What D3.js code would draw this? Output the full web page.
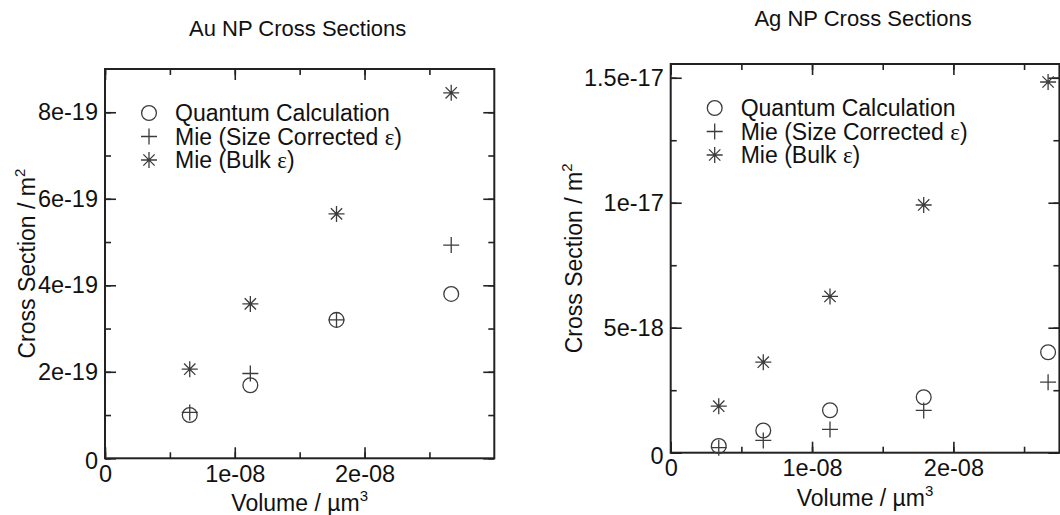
<!DOCTYPE html>
<html>
<head>
<meta charset="utf-8">
<script src="https://cdn.jsdelivr.net/npm/d3@7"></script>
<style>
  body { margin: 0; background: #fff; }
  text { font-family: "Liberation Sans", Arial, sans-serif; fill: #111; }
  .eps { font-family: "Liberation Serif", "DejaVu Serif", serif; }
</style>
</head>
<body>
<div id="chart"></div>
<script>
// Au panel data
var auVolume  = [0.653e-8, 1.12e-8, 1.784e-8, 2.668e-8];
var auQuantum = [1.00e-19, 1.69e-19, 3.20e-19, 3.80e-19];
var auMieSize = [1.06e-19, 1.96e-19, 3.20e-19, 4.93e-19];
var auMieBulk = [2.06e-19, 3.57e-19, 5.65e-19, 8.45e-19];

// Ag panel data
var agVolume  = [0.34e-8, 0.655e-8, 1.127e-8, 1.79e-8, 2.67e-8];
var agQuantum = [0.27e-18, 0.89e-18, 1.70e-18, 2.22e-18, 4.02e-18];
var agMieSize = [0.20e-18, 0.49e-18, 0.93e-18, 1.69e-18, 2.82e-18];
var agMieBulk = [1.86e-18, 3.62e-18, 6.25e-18, 9.91e-18, 14.83e-18];

var legendLabels = ["Quantum Calculation", "Mie (Size Corrected ", "Mie (Bulk "];
var auXTicks = [0, 1e-8, 2e-8],  auXTickLabels = ["0", "1e-08", "2e-08"];
var auYTicks = [0, 2e-19, 4e-19, 6e-19, 8e-19], auYTickLabels = ["0", "2e-19", "4e-19", "6e-19", "8e-19"];
var agXTicks = [0, 1e-8, 2e-8],  agXTickLabels = ["0", "1e-08", "2e-08"];
var agYTicks = [0, 5e-18, 1e-17, 1.5e-17], agYTickLabels = ["0", "5e-18", "1e-17", "1.5e-17"];

var svg = d3.select('#chart').append('svg')
    .attr('width', 1060)
    .attr('height', 515);

var stroke = '#222';
var markStroke = '#3c3c3c';

function marker(g, type, cx, cy) {
    if (type == 'circle') {
        g.append('circle').attr('cx', cx).attr('cy', cy).attr('r', 7.4)
            .attr('fill', 'none').attr('stroke', markStroke).attr('stroke-width', 1.3);
    } else if (type == 'plus') {
        g.append('path').attr('d', 'M' + (cx - 8) + ',' + cy + 'h16M' + cx + ',' + (cy - 8) + 'v16')
            .attr('stroke', markStroke).attr('stroke-width', 1.3);
    } else {
        var r = 8, d = r * 0.7071;
        g.append('path')
            .attr('d', 'M' + (cx - r) + ',' + cy + 'h' + (2 * r) + 'M' + cx + ',' + (cy - r) + 'v' + (2 * r) +
                'M' + (cx - d) + ',' + (cy - d) + 'l' + (2 * d) + ',' + (2 * d) +
                'M' + (cx - d) + ',' + (cy + d) + 'l' + (2 * d) + ',' + (-2 * d))
            .attr('stroke', markStroke).attr('stroke-width', 1.3);
    }
}

function drawPanel(p) {
    var x = d3.scaleLinear().domain(p.xDomain).range([p.left, p.left + p.size]);
    var y = d3.scaleLinear().domain(p.yDomain).range([p.top + p.size, p.top]);
    var g = svg.append('g');

    // minor ticks on all four sides
    var minorX = d3.range(0, p.xDomain[1], p.xMinor);
    var minorY = d3.range(0, p.yDomain[1], p.yMinor);
    [[d3.axisBottom(x), p.top + p.size, minorX, 'h'], [d3.axisTop(x), p.top, minorX, 'h'],
     [d3.axisLeft(y), p.left, minorY, 'v'], [d3.axisRight(y), p.left + p.size, minorY, 'v']]
        .forEach(function (a) {
            var ax = a[0].tickValues(a[2]).tickSize(-6).tickSizeOuter(0).tickFormat('');
            var t = g.append('g')
                .attr('transform', a[3] == 'h' ? 'translate(0,' + a[1] + ')' : 'translate(' + a[1] + ',0)')
                .call(ax);
            t.select('.domain').remove();
            t.selectAll('line').attr('stroke', stroke).attr('stroke-width', 1.6);
        });

    // major ticks with labels
    var bx = g.append('g').attr('transform', 'translate(0,' + (p.top + p.size) + ')')
        .call(d3.axisBottom(x).tickValues(p.xTicks).tickSize(-11).tickSizeOuter(0).tickPadding(7)
            .tickFormat(function (d, i) { return p.xTickLabels[i]; }));
    var tx = g.append('g').attr('transform', 'translate(0,' + p.top + ')')
        .call(d3.axisTop(x).tickValues(p.xTicks).tickSize(-11).tickSizeOuter(0).tickFormat(''));
    var ly = g.append('g').attr('transform', 'translate(' + p.left + ',0)')
        .call(d3.axisLeft(y).tickValues(p.yTicks).tickSize(-11).tickSizeOuter(0).tickPadding(7)
            .tickFormat(function (d, i) { return p.yTickLabels[i]; }));
    var ry = g.append('g').attr('transform', 'translate(' + (p.left + p.size) + ',0)')
        .call(d3.axisRight(y).tickValues(p.yTicks).tickSize(-11).tickSizeOuter(0).tickFormat(''));
    [bx, tx, ly, ry].forEach(function (a) {
        a.select('.domain').remove();
        a.selectAll('line').attr('stroke', stroke).attr('stroke-width', 1.6);
        a.selectAll('text').attr('font-size', 23.5).attr('fill', '#111')
            .attr('font-family', '"Liberation Sans", Arial, sans-serif');
    });
    // the zero labels sit slightly off the corner as in the original
    ly.selectAll('.tick').filter(function (d) { return d == 0; }).select('text').attr('dy', '0.45em');

    // frame
    g.append('rect').attr('x', p.left).attr('y', p.top).attr('width', p.size).attr('height', p.size)
        .attr('fill', 'none').attr('stroke', stroke).attr('stroke-width', 2);

    // data
    var series = [[p.quantum, 'circle'], [p.mieSize, 'plus'], [p.mieBulk, 'star']];
    series.forEach(function (s) {
        s[0].forEach(function (v, i) {
            marker(g, s[1], x(p.volume[i]), y(v));
        });
    });

    // legend
    series.forEach(function (s, i) {
        var ly0 = p.top + 44 + i * 23.5;
        marker(g, s[1], p.left + 44, ly0);
        var t = g.append('text').attr('x', p.left + 70).attr('y', ly0 + 8).attr('font-size', 23)
            .text(legendLabels[i]);
        if (i > 0) {
            t.append('tspan').attr('class', 'eps').text('\u03b5');
            t.append('tspan').text(')');
        }
    });

    // title
    g.append('text').attr('x', p.left + p.size / 2 - 2).attr('y', p.titleY)
        .attr('text-anchor', 'middle').attr('font-size', 22).text(p.title);

    // axis labels
    var xl = g.append('text').attr('x', p.left + p.size / 2).attr('y', p.top + p.size + 53)
        .attr('text-anchor', 'middle').attr('font-size', 23).text('Volume / \u00b5m');
    xl.append('tspan').attr('font-size', 15).attr('dy', -10).text('3');

    var yl = g.append('text')
        .attr('transform', 'translate(' + p.yLabelX + ',' + (p.top + p.size / 2) + ') rotate(-90)')
        .attr('text-anchor', 'middle').attr('font-size', 23).text('Cross Section / m');
    yl.append('tspan').attr('font-size', 15).attr('dy', -10).text('2');
}

drawPanel({
    left: 105, top: 69, size: 389.3,
    xDomain: [0, 3e-8], yDomain: [0, 9e-19], xMinor: 0.5e-8, yMinor: 1e-19,
    xTicks: auXTicks, xTickLabels: auXTickLabels, yTicks: auYTicks, yTickLabels: auYTickLabels,
    volume: auVolume, quantum: auQuantum, mieSize: auMieSize, mieBulk: auMieBulk,
    title: 'Au NP Cross Sections', titleY: 36, yLabelX: 35
});

drawPanel({
    left: 670.7, top: 64, size: 388.7,
    xDomain: [0, 2.75e-8], yDomain: [0, 1.555e-17], xMinor: 0.5e-8, yMinor: 2.5e-18,
    xTicks: agXTicks, xTickLabels: agXTickLabels, yTicks: agYTicks, yTickLabels: agYTickLabels,
    volume: agVolume, quantum: agQuantum, mieSize: agMieSize, mieBulk: agMieBulk,
    title: 'Ag NP Cross Sections', titleY: 26, yLabelX: 582
});
</script>
</body>
</html>
